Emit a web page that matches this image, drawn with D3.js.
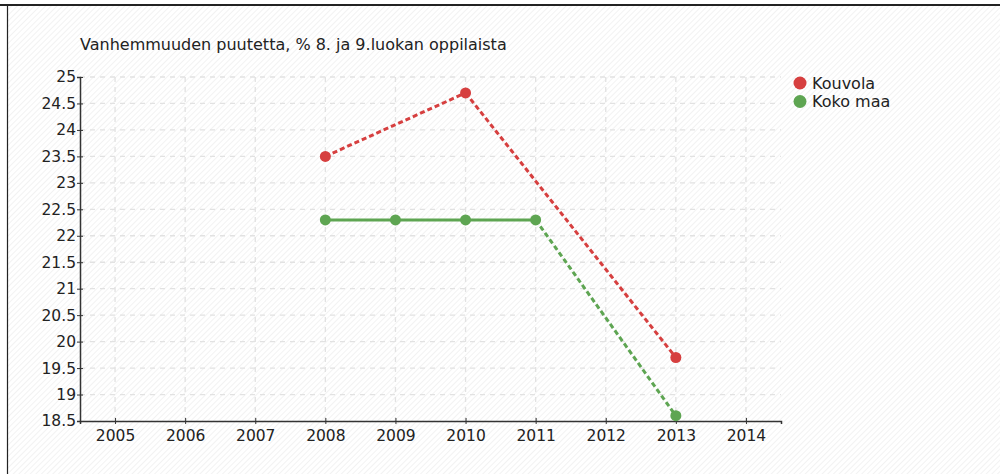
<!DOCTYPE html>
<html>
<head>
<meta charset="utf-8">
<script src="https://cdn.jsdelivr.net/npm/d3@7"></script>
<style>
html,body{margin:0;padding:0;background:#fff;}
svg{display:block;}
text{font-family:"DejaVu Sans",Verdana,sans-serif;fill:#222;}
</style>
</head>
<body>
<svg id="chart" width="1000" height="474"></svg>
<script>
const title = "Vanhemmuuden puutetta, % 8. ja 9.luokan oppilaista";
const years = [2005, 2006, 2007, 2008, 2009, 2010, 2011, 2012, 2013, 2014];
const yTicks = [18.5, 19, 19.5, 20, 20.5, 21, 21.5, 22, 22.5, 23, 23.5, 24, 24.5, 25];
const seriesNames = ["Kouvola", "Koko maa"];
const seriesColors = ["#d63f3f", "#5ea552"];
const kouvolaYears = [2008, 2010, 2013];
const kouvolaValues = [23.5, 24.7, 19.7];
const kokoYears = [2008, 2009, 2010, 2011, 2013];
const kokoValues = [22.3, 22.3, 22.3, 22.3, 18.6];

const svg = d3.select("#chart");
const W = 1000, H = 474;

// hatch background
const defs = svg.append("defs");
const pat = defs.append("pattern").attr("id","hatch").attr("patternUnits","userSpaceOnUse")
  .attr("width",4).attr("height",4).attr("patternTransform","rotate(45)");
pat.append("rect").attr("width",4).attr("height",4).attr("fill","#ffffff");
pat.append("line").attr("x1",0).attr("y1",0).attr("x2",0).attr("y2",4)
  .attr("stroke","#eaeaea").attr("stroke-width",1.2);
svg.append("rect").attr("x",0).attr("y",0).attr("width",W).attr("height",H).attr("fill","#fff");
svg.append("rect").attr("x",8).attr("y",5).attr("width",W-8).attr("height",H-5).attr("fill","url(#hatch)");

// frame lines
svg.append("line").attr("x1",0).attr("x2",W).attr("y1",5).attr("y2",5).attr("stroke","#222").attr("stroke-width",2);
svg.append("line").attr("x1",7.5).attr("x2",7.5).attr("y1",5).attr("y2",H).attr("stroke","#222").attr("stroke-width",1.2);

const x = d3.scaleLinear().domain([2004.5, 2014.5]).range([80, 781]);
const y = d3.scaleLinear().domain([18.5, 25]).range([421, 77]);

// grid
const grid = svg.append("g");
grid.selectAll("line.v").data(years).enter().append("line")
  .attr("x1", d=>x(d)).attr("x2", d=>x(d)).attr("y1", y(25)).attr("y2", y(18.5))
  .attr("stroke","#e2e2e2").attr("stroke-width",1.3).attr("stroke-dasharray","5,5");
grid.selectAll("line.h").data(yTicks.filter(d=>d>18.5)).enter().append("line")
  .attr("x1", x(2004.5)).attr("x2", x(2014.5)).attr("y1", d=>y(d)).attr("y2", d=>y(d))
  .attr("stroke","#e2e2e2").attr("stroke-width",1.3).attr("stroke-dasharray","5,5");

// axes
const yAxis = d3.axisLeft(y).tickValues(yTicks).tickFormat(d=>String(d)).tickSize(3).tickPadding(1);
const gy = svg.append("g").attr("transform","translate(80,0)").call(yAxis);
gy.select(".domain").attr("stroke","#333").attr("stroke-width",1.5);
gy.selectAll(".tick line").attr("stroke","#333").attr("x2",3).attr("x1",-3);
gy.selectAll(".tick text").attr("font-size",15.5).attr("font-family","DejaVu Sans").attr("fill","#222");

const xAxis = d3.axisBottom(x).tickValues(years).tickFormat(d3.format("d")).tickSize(3).tickPadding(6);
const gx = svg.append("g").attr("transform","translate(0,421)").call(xAxis);
gx.select(".domain").attr("stroke","#333").attr("stroke-width",1.5);
gx.selectAll(".tick line").attr("stroke","#333").attr("y1",-3).attr("y2",3);
gx.selectAll(".tick text").attr("font-size",15.5).attr("font-family","DejaVu Sans").attr("fill","#222");

// title
svg.append("text").attr("x",80).attr("y",50).attr("font-size",16).text(title);

// series
function drawSeries(yrs, vals, color){
  const pts = yrs.map((yr,i)=>({x:yr, v:vals[i]}));
  for(let i=0;i<pts.length-1;i++){
    const a=pts[i], b=pts[i+1];
    const gap = (b.x - a.x) > 1;
    svg.append("line").attr("x1",x(a.x)).attr("y1",y(a.v)).attr("x2",x(b.x)).attr("y2",y(b.v))
      .attr("stroke",color).attr("stroke-width",3)
      .attr("stroke-dasharray", gap ? "5,3" : null);
  }
  svg.selectAll(null).data(pts).enter().append("circle")
    .attr("cx",d=>x(d.x)).attr("cy",d=>y(d.v)).attr("r",5.5).attr("fill",color);
}
drawSeries(kouvolaYears, kouvolaValues, seriesColors[0]);
drawSeries(kokoYears, kokoValues, seriesColors[1]);

// legend
const leg = svg.append("g");
seriesNames.forEach((n,i)=>{
  leg.append("circle").attr("cx",800).attr("cy",83+i*18.5).attr("r",6.5).attr("fill",seriesColors[i]);
  leg.append("text").attr("x",812).attr("y",89+i*18).attr("font-size",16).text(n);
});
</script>
</body>
</html>
